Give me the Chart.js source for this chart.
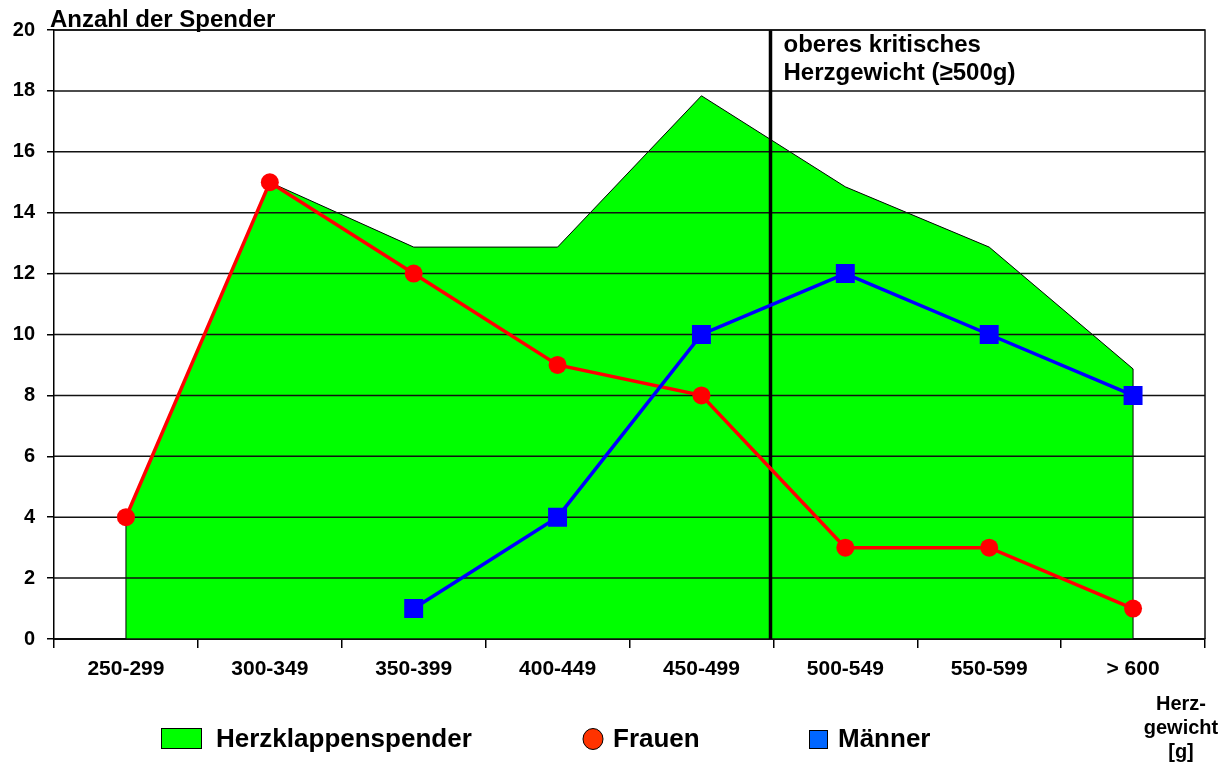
<!DOCTYPE html>
<html><head><meta charset="utf-8">
<script src="https://cdn.jsdelivr.net/npm/chart.js@4/dist/chart.umd.min.js"></script>
<style>html,body{margin:0;padding:0;background:#fff;}#wrap{width:1230px;height:764px;position:relative;}</style>
</head><body><div id="wrap"><canvas id="c" width="1230" height="764"></canvas></div>
<script>
const categories = ['250-299','300-349','350-399','400-449','450-499','500-549','550-599','> 600'];
const spenderTotal = [4, 15, 12.87, 12.87, 17.84, 14.85, 12.87, 8.87];
const frauen = [4, 15, 12, 9, 8, 3, 3, 1];
const maenner = [null, null, 1, 4, 10, 12, 10, 8];
const yTickValues = [0, 2, 4, 6, 8, 10, 12, 14, 16, 18, 20];
const seriesNames = ['Herzklappenspender', 'Frauen', 'Männer'];
const yTitle = 'Anzahl der Spender';
const xTitleLines = ['Herz-', 'gewicht', '[g]'];
const criticalLabel = ['oberes kritisches', 'Herzgewicht (\u2265500g)'];
const criticalPosition = 4.48;

const FONT = "'Liberation Sans', Arial, sans-serif";

const overlay = {
  id: 'overlay',
  afterDatasetDraw(chart, args) {
    if (args.index !== 0) return;
    const {ctx, chartArea: a, scales: {x, y}} = chart;
    ctx.save();
    ctx.strokeStyle = '#000'; ctx.lineWidth = 1;
    const last = spenderTotal.length - 1;
    const x0 = x.getPixelForValue(0), xn = x.getPixelForValue(last);
    ctx.beginPath();
    ctx.moveTo(x0, y.getPixelForValue(spenderTotal[0])); ctx.lineTo(x0, y.getPixelForValue(0));
    ctx.moveTo(xn, y.getPixelForValue(spenderTotal[last])); ctx.lineTo(xn, y.getPixelForValue(0));
    ctx.stroke();
    ctx.strokeStyle = '#111'; ctx.lineWidth = 1.5;
    y.ticks.forEach(t => {
      const py = y.getPixelForValue(t.value);
      ctx.beginPath(); ctx.moveTo(a.left, py); ctx.lineTo(a.right, py); ctx.stroke();
    });
    const cx = x.getPixelForValue(criticalPosition);
    ctx.strokeStyle = '#000'; ctx.lineWidth = 3.5;
    ctx.beginPath(); ctx.moveTo(cx, a.top); ctx.lineTo(cx, a.bottom); ctx.stroke();
    ctx.restore();
  },
  afterDraw(chart) {
    const {ctx, chartArea: a, scales: {x}} = chart;
    ctx.save();
    ctx.strokeStyle = '#111'; ctx.lineWidth = 1.5;
    ctx.beginPath(); ctx.moveTo(a.left, a.top); ctx.lineTo(a.right, a.top); ctx.lineTo(a.right, a.bottom); ctx.stroke();
    ctx.fillStyle = '#000';
    ctx.font = 'bold 24px ' + FONT; ctx.textBaseline = 'alphabetic'; ctx.textAlign = 'left';
    ctx.fillText(yTitle, 50, 27);
    const cx = x.getPixelForValue(criticalPosition);
    ctx.fillText(criticalLabel[0], cx + 13, 52);
    ctx.fillText(criticalLabel[1], cx + 13, 80);
    ctx.font = 'bold 20px ' + FONT; ctx.textAlign = 'center'; ctx.textBaseline = 'middle';
    xTitleLines.forEach((l, i) => ctx.fillText(l, 1181, 704 + i * 24));
    ctx.lineWidth = 1; ctx.strokeStyle = '#000';
    ctx.fillStyle = '#00ff00'; ctx.fillRect(161.5, 728.5, 40, 20); ctx.strokeRect(161.5, 728.5, 40, 20);
    ctx.fillStyle = '#ff3300'; ctx.beginPath(); ctx.ellipse(593, 739, 10, 10.5, 0, 0, Math.PI * 2); ctx.fill(); ctx.stroke();
    ctx.fillStyle = '#0066ff'; ctx.fillRect(809.5, 730.5, 18, 18); ctx.strokeRect(809.5, 730.5, 18, 18);
    ctx.fillStyle = '#000'; ctx.font = 'bold 26px ' + FONT; ctx.textAlign = 'left'; ctx.textBaseline = 'alphabetic';
    ctx.fillText(seriesNames[0], 216, 747);
    ctx.fillText(seriesNames[1], 613, 747);
    ctx.fillText(seriesNames[2], 838, 747);
    ctx.restore();
  }
};

new Chart(document.getElementById('c'), {
  type: 'line',
  data: {
    labels: categories,
    datasets: [
      { label: seriesNames[0], data: spenderTotal, fill: 'origin', backgroundColor: '#00ff00',
        borderColor: '#000', borderWidth: 1, pointRadius: 0, tension: 0, order: 3 },
      { label: seriesNames[1], data: frauen, borderColor: '#ff0000', backgroundColor: '#ff0000',
        borderWidth: 3.5, pointStyle: 'circle', pointRadius: 9, pointBorderWidth: 0, fill: false, tension: 0, order: 2 },
      { label: seriesNames[2], data: maenner, borderColor: '#0000ff', backgroundColor: '#0000ff',
        borderWidth: 3.5, pointStyle: 'rect', pointRadius: 13.4, pointBorderWidth: 0, fill: false, tension: 0, order: 1 }
    ]
  },
  options: {
    responsive: false, animation: false, devicePixelRatio: 1,
    layout: { padding: { left: 0, right: 25, top: 30, bottom: 0 } },
    plugins: { legend: { display: false }, tooltip: { enabled: false } },
    scales: {
      x: {
        offset: true,
        grid: { display: true, offset: true, drawOnChartArea: false, drawTicks: true, tickLength: 9, color: '#000', lineWidth: 1.5 },
        border: { display: true, color: '#000', width: 2 },
        ticks: { color: '#000', font: { family: FONT, size: 21, weight: 'bold' }, padding: 9, maxRotation: 0, autoSkip: false },
        afterFit(s) { s.height = 125; }
      },
      y: {
        min: 0, max: 20,
        afterBuildTicks(s) { s.ticks = yTickValues.map(v => ({ value: v })); },
        grid: { display: true, drawOnChartArea: false, drawTicks: true, tickLength: 7, color: '#000', lineWidth: 1.5 },
        border: { display: true, color: '#000', width: 1.5 },
        ticks: { color: '#000', font: { family: FONT, size: 20, weight: 'bold' }, padding: 12 },
        afterFit(s) { s.width = 54; }
      }
    }
  },
  plugins: [overlay]
});
</script></body></html>
